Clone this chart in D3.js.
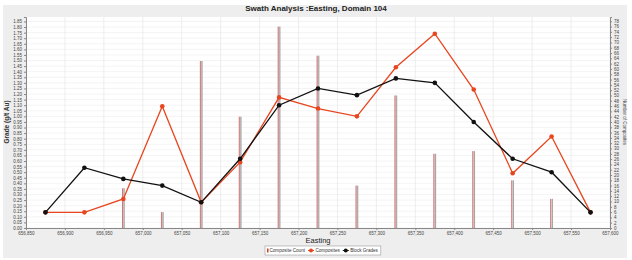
<!DOCTYPE html>
<html>
<head>
<meta charset="utf-8">
<script src="https://cdn.jsdelivr.net/npm/d3@7"></script>
<style>
  body { margin: 0; background: #fff; }
  svg { font-family: "Liberation Sans", Arial, sans-serif; }
</style>
</head>
<body>
<svg id="chart" width="632" height="260"></svg>
<script>
// eastings of each swath slice
var eastings = [656875, 656925, 656975, 657025, 657075, 657125, 657175, 657225,
                657275, 657325, 657375, 657425, 657475, 657525, 657575];
// composite grades (g/t Au)
var composites = [0.14, 0.14, 0.26, 1.09, 0.23, 0.59, 1.17, 1.07,
                  1.00, 1.44, 1.74, 1.24, 0.49, 0.82, 0.14];
// block model grades (g/t Au)
var blockGrades = [0.14, 0.54, 0.44, 0.38, 0.23, 0.62, 1.10, 1.25,
                   1.19, 1.34, 1.30, 0.95, 0.62, 0.50, 0.14];
// number of composites per slice
var compositeCount = [0, 0, 15, 6, 63, 42, 76, 65, 16, 50, 28, 29, 18, 11, 0];

var xTicks = d3.range(656850, 657601, 50);
var gradeTicks = d3.range(0, 37.5).map(function(i) { return i * 0.05; });
var countTicks = d3.range(0, 79, 2);

var svg = d3.select("#chart");
var plot = { left: 26, right: 610, top: 17, bottom: 228 };

// grey panel
svg.append("rect").attr("x", 3).attr("y", 5).attr("width", 624).attr("height", 253)
   .attr("fill", "#eeeeee");
svg.append("rect").attr("x", plot.left).attr("y", plot.top)
   .attr("width", plot.right - plot.left).attr("height", plot.bottom - plot.top)
   .attr("fill", "#fff");

var x = d3.scaleLinear().domain([656850, 657600]).range([plot.left, plot.right]);
var yGrade = d3.scaleLinear().domain([0, 1.89]).range([plot.bottom, plot.top]);
var yCount = d3.scaleLinear().domain([0, 79.6]).range([plot.bottom, plot.top]);

// grid lines
svg.append("g").selectAll("line").data(gradeTicks).enter().append("line")
   .attr("x1", plot.left).attr("x2", plot.right)
   .attr("y1", function(d) { return yGrade(d); }).attr("y2", function(d) { return yGrade(d); })
   .attr("stroke", "#ececec").attr("stroke-width", 0.6);
svg.append("g").selectAll("line").data(xTicks).enter().append("line")
   .attr("y1", plot.top).attr("y2", plot.bottom)
   .attr("x1", function(d) { return x(d); }).attr("x2", function(d) { return x(d); })
   .attr("stroke", "#e2e2e2").attr("stroke-width", 0.6);

// bars
var defs = svg.append("defs");
var grad = defs.append("linearGradient").attr("id", "barGrad")
   .attr("x1", "0%").attr("x2", "100%").attr("y1", "0%").attr("y2", "0%");
grad.append("stop").attr("offset", "0%").attr("stop-color", "#cc3c3c");
grad.append("stop").attr("offset", "45%").attr("stop-color", "#d4c8c8");
grad.append("stop").attr("offset", "100%").attr("stop-color", "#8e8e8e");

svg.append("g").selectAll("rect").data(eastings).enter().append("rect")
   .attr("x", function(d) { return x(d) - 1.3; })
   .attr("width", 2.6)
   .attr("y", function(d, i) { return yCount(compositeCount[i]); })
   .attr("height", function(d, i) { return plot.bottom - yCount(compositeCount[i]); })
   .attr("fill", "url(#barGrad)");

// lines
function drawSeries(values, color) {
  var line = d3.line()
      .x(function(d, i) { return x(eastings[i]); })
      .y(function(d) { return yGrade(d); });
  svg.append("path").datum(values).attr("d", line)
     .attr("fill", "none").attr("stroke", color).attr("stroke-width", 1.3);
  svg.append("g").selectAll("circle").data(values).enter().append("circle")
     .attr("cx", function(d, i) { return x(eastings[i]); })
     .attr("cy", function(d) { return yGrade(d); })
     .attr("r", 2.3).attr("fill", color);
}
drawSeries(composites, "#e8461e");
drawSeries(blockGrades, "#111");

// axes
function styleAxis(g) {
  g.selectAll("text").attr("font-size", "4.5px").attr("fill", "#444");
  g.selectAll("line").attr("stroke", "#888");
  g.select(".domain").attr("stroke", "#888");
}
svg.append("g").attr("transform", "translate(0," + plot.bottom + ")")
   .call(d3.axisBottom(x).tickValues(xTicks).tickSize(2).tickPadding(2)
         .tickFormat(d3.format(",")))
   .call(styleAxis);
svg.append("g").attr("transform", "translate(" + plot.left + ",0)")
   .call(d3.axisLeft(yGrade).tickValues(gradeTicks).tickSize(2).tickPadding(2)
         .tickFormat(d3.format(".2f")))
   .call(styleAxis);
svg.append("g").attr("transform", "translate(" + plot.right + ",0)")
   .call(d3.axisRight(yCount).tickValues(countTicks).tickSize(2).tickPadding(2))
   .call(styleAxis);

// titles
svg.append("text").attr("x", 316).attr("y", 11).attr("text-anchor", "middle")
   .attr("font-size", "8px").attr("font-weight", "bold").attr("fill", "#222")
   .text("Swath Analysis :Easting, Domain 104");
svg.append("text").attr("x", 318).attr("y", 243).attr("text-anchor", "middle")
   .attr("font-size", "7.5px").attr("fill", "#222").text("Easting");
svg.append("text").attr("transform", "translate(9,122) rotate(-90)")
   .attr("text-anchor", "middle").attr("font-size", "6.5px").attr("font-weight", "bold")
   .attr("fill", "#333").text("Grade (g/t Au)");
svg.append("text").attr("transform", "translate(623,122) rotate(90)")
   .attr("text-anchor", "middle").attr("font-size", "4.5px")
   .attr("fill", "#444").text("Number of Composites");

// legend
var lg = svg.append("g").attr("transform", "translate(265,246)");
var box = lg.append("rect").attr("height", 9).attr("fill", "#fff")
  .attr("stroke", "#888").attr("stroke-width", 0.5);
var items = [
  { label: "Composite Count", color: "#cc3c3c", type: "bar" },
  { label: "Composites", color: "#e8461e", type: "dot" },
  { label: "Block Grades", color: "#111", type: "dot" }
];
var lx = 2;
items.forEach(function(it) {
  if (it.type == "bar") {
    lg.append("rect").attr("x", lx).attr("y", 2.5).attr("width", 1.5).attr("height", 4)
      .attr("fill", it.color);
    lx += 2.5;
  } else {
    lg.append("line").attr("x1", lx).attr("x2", lx + 6).attr("y1", 4.5).attr("y2", 4.5)
      .attr("stroke", it.color).attr("stroke-width", 1);
    lg.append("circle").attr("cx", lx + 3).attr("cy", 4.5).attr("r", 2).attr("fill", it.color);
    lx += 7.5;
  }
  var t = lg.append("text").attr("x", lx).attr("y", 6.3).attr("font-size", "4.6px")
    .attr("fill", "#333").text(it.label);
  lx += t.node().getComputedTextLength() + 3;
});
box.attr("width", lx);
</script>
</body>
</html>
